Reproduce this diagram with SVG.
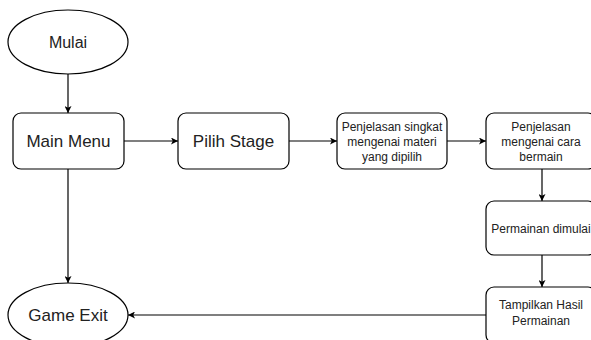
<svg xmlns="http://www.w3.org/2000/svg" width="591" height="340" viewBox="0 0 591 340">
<defs>
<marker id="ah" viewBox="0 0 10 10" refX="10" refY="5" markerWidth="7" markerHeight="7" orient="auto" markerUnits="userSpaceOnUse">
<path d="M0,0 L10,5 L0,10 L2.5,5 z" fill="#000"/>
</marker>
<style>
.n{fill:#fff;stroke:#000;stroke-width:1.2}
.t{font-family:"Liberation Sans",Arial,sans-serif;fill:#222;text-anchor:middle;dominant-baseline:central}
.l{font-size:17px}
.s{font-size:12px}
.c{fill:none;stroke:#000;stroke-width:1.2;marker-end:url(#ah)}
</style>
</defs>
<rect width="591" height="340" fill="#fff"/>
<g id="connectors">
<path class="c" d="M68,74 L68,113"/>
<path class="c" d="M124,141 L178,141"/>
<path class="c" d="M289,141 L337,141"/>
<path class="c" d="M447,141 L486,141"/>
<path class="c" d="M542,169 L542,201"/>
<path class="c" d="M542,255 L542,287"/>
<path class="c" d="M68,169 L68,283"/>
<path class="c" d="M486,315 L128,315"/>
</g>
<g id="mulai">
<ellipse class="n" cx="68" cy="42" rx="60" ry="32"/>
<text class="t" x="68" y="42" font-size="16">Mulai</text>
</g>
<g id="main-menu">
<rect class="n" x="13" y="113" width="111" height="56" rx="8"/>
<text class="t l" x="68.5" y="141">Main Menu</text>
</g>
<g id="pilih-stage">
<rect class="n" x="178" y="113" width="111" height="56" rx="8"/>
<text class="t l" x="233.5" y="141">Pilih Stage</text>
</g>
<g id="penjelasan-materi">
<rect class="n" x="337" y="113" width="110" height="56" rx="8"/>
<text class="t s" x="392" y="127">Penjelasan singkat</text>
<text class="t s" x="392" y="142">mengenai materi</text>
<text class="t s" x="392" y="157">yang dipilih</text>
</g>
<g id="penjelasan-cara">
<rect class="n" x="486" y="113" width="110" height="56" rx="8"/>
<text class="t s" x="541" y="127">Penjelasan</text>
<text class="t s" x="541" y="142">mengenai cara</text>
<text class="t s" x="541" y="157">bermain</text>
</g>
<g id="permainan-dimulai">
<rect class="n" x="486" y="201" width="110" height="54" rx="8"/>
<text class="t s" x="541" y="229">Permainan dimulai</text>
</g>
<g id="tampilkan-hasil">
<rect class="n" x="486" y="287" width="110" height="56" rx="8"/>
<text class="t s" x="541" y="305">Tampilkan Hasil</text>
<text class="t s" x="541" y="321">Permainan</text>
</g>
<g id="game-exit">
<ellipse class="n" cx="68" cy="315" rx="60" ry="32"/>
<text class="t l" x="68" y="315">Game Exit</text>
</g>
</svg>
